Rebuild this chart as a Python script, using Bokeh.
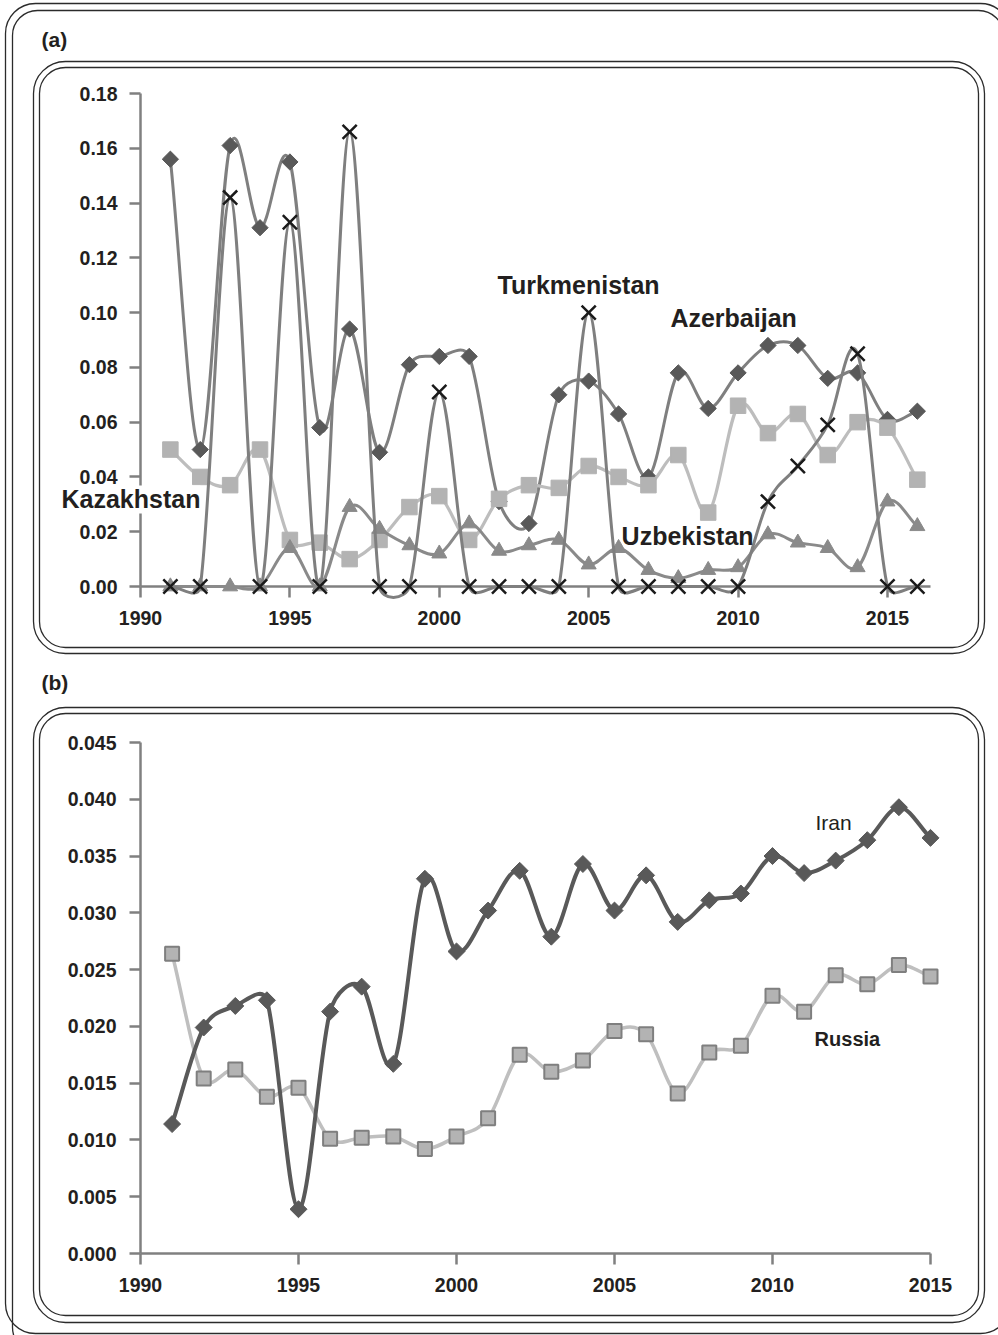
import numpy as np
from bokeh.plotting import figure
from bokeh.models import FixedTicker, NumeralTickFormatter, Range1d
from bokeh.core.properties import value
from bokeh.layouts import column
from bokeh.embed import file_html
from bokeh.resources import INLINE

# ---------------- data: panel (a) ----------------
years_a = list(range(1991, 2017))
azerbaijan = [0.156, 0.050, 0.161, 0.131, 0.155, 0.058, 0.094, 0.049, 0.081, 0.084,
              0.084, 0.031, 0.023, 0.070, 0.075, 0.063, 0.040, 0.078, 0.065, 0.078,
              0.088, 0.088, 0.076, 0.078, 0.061, 0.064]
kazakhstan = [0.050, 0.040, 0.037, 0.050, 0.017, 0.016, 0.010, 0.017, 0.029, 0.033,
              0.017, 0.032, 0.037, 0.036, 0.044, 0.040, 0.037, 0.048, 0.027, 0.066,
              0.056, 0.063, 0.048, 0.060, 0.058, 0.039]
uzbekistan = [0.000, 0.000, 0.000, 0.000, 0.014, 0.000, 0.029, 0.021, 0.015, 0.012,
              0.023, 0.013, 0.015, 0.017, 0.008, 0.014, 0.006, 0.003, 0.006, 0.007,
              0.019, 0.016, 0.014, 0.007, 0.031, 0.022]
turkmenistan = [0.000, 0.000, 0.142, 0.000, 0.133, 0.000, 0.166, 0.000, 0.000, 0.071,
                0.000, 0.000, 0.000, 0.000, 0.100, 0.000, 0.000, 0.000, 0.000, 0.000,
                0.031, 0.044, 0.059, 0.085, 0.000, 0.000]
xticks_a = [1990, 1995, 2000, 2005, 2010, 2015]
yticks_a = [0.00, 0.02, 0.04, 0.06, 0.08, 0.10, 0.12, 0.14, 0.16, 0.18]
labels_a = ["Turkmenistan", "Azerbaijan", "Kazakhstan", "Uzbekistan"]

# ---------------- data: panel (b) ----------------
years_b = list(range(1991, 2016))
iran = [0.0114, 0.0199, 0.0218, 0.0223, 0.0039, 0.0213, 0.0235, 0.0167, 0.0330, 0.0266,
        0.0302, 0.0337, 0.0279, 0.0343, 0.0302, 0.0333, 0.0292, 0.0311, 0.0317, 0.0350,
        0.0335, 0.0346, 0.0364, 0.0393, 0.0366]
russia = [0.0264, 0.0154, 0.0162, 0.0138, 0.0146, 0.0101, 0.0102, 0.0103, 0.0092, 0.0103,
          0.0119, 0.0175, 0.0160, 0.0170, 0.0196, 0.0193, 0.0141, 0.0177, 0.0183, 0.0227,
          0.0213, 0.0245, 0.0237, 0.0254, 0.0244]
xticks_b = [1990, 1995, 2000, 2005, 2010, 2015]
yticks_b = [0.000, 0.005, 0.010, 0.015, 0.020, 0.025, 0.030, 0.035, 0.040, 0.045]

FONT = "Liberation Sans"
TXT = "#231f20"
AXC = "#808080"
FRAME = "#2b2b2b"


def smooth_segments(xs, ys, sx, sy):
    """Spreadsheet-style smoothed line: Bezier control points computed in pixel space
    (arms 1/6 of the neighbour chord, capped at half the segment length)."""
    P = np.column_stack([np.asarray(xs, float) * sx, np.asarray(ys, float) * sy])
    n = len(P)
    out = {k: [] for k in ("x0", "y0", "x1", "y1", "cx0", "cy0", "cx1", "cy1")}
    for i in range(n - 1):
        p1, p2 = P[i], P[i + 1]
        p0 = P[i - 1] if i > 0 else P[i]
        p3 = P[i + 2] if i + 2 < n else P[i + 1]
        d12 = float(np.hypot(*(p2 - p1)))
        a1 = (p2 - p0) * (1 / 6 if i > 0 else 1 / 3)
        a2 = (p3 - p1) * (1 / 6 if i + 2 < n else 1 / 3)
        arms = []
        for a in (a1, a2):
            L = float(np.hypot(*a))
            if L > d12 / 2 and L > 0:
                a = a * (d12 / 2) / L
            arms.append(a)
        b1 = p1 + arms[0]
        b2 = p2 - arms[1]
        out["x0"].append(p1[0] / sx); out["y0"].append(p1[1] / sy)
        out["x1"].append(p2[0] / sx); out["y1"].append(p2[1] / sy)
        out["cx0"].append(b1[0] / sx); out["cy0"].append(b1[1] / sy)
        out["cx1"].append(b2[0] / sx); out["cy1"].append(b2[1] / sy)
    return out


def style_axes(p, xt, yt, yfmt, xstand, ystand):
    for ax in (p.xaxis[0], p.yaxis[0]):
        ax.axis_line_color = AXC
        ax.axis_line_width = 2.5
        ax.major_tick_line_color = AXC
        ax.major_tick_line_width = 2.5
        ax.major_tick_out = 11
        ax.major_tick_in = 0
        ax.minor_tick_line_color = None
        ax.major_label_text_font = FONT
        ax.major_label_text_font_style = "bold"
        ax.major_label_text_font_size = "19.5px"
        ax.major_label_text_color = TXT
    p.xaxis[0].major_label_standoff = xstand
    p.yaxis[0].major_label_standoff = ystand
    p.xaxis[0].ticker = FixedTicker(ticks=xt)
    p.xaxis[0].formatter = NumeralTickFormatter(format="0")
    p.yaxis[0].ticker = FixedTicker(ticks=yt)
    p.yaxis[0].formatter = NumeralTickFormatter(format=yfmt)
    p.grid.visible = False
    p.outline_line_color = None


class Mapper:
    """canvas pixel position -> data coordinates of a figure (for decorations)."""
    def __init__(self, fl, fb, x0, y0, sx, sy):
        self.fl, self.fb, self.x0, self.y0, self.sx, self.sy = fl, fb, x0, y0, sx, sy

    def x(self, px):
        return self.x0 + (px - self.fl) / self.sx

    def y(self, py):
        return self.y0 + (self.fb - py) / self.sy


def rounded(p, m, l, t, r, b, radius, width=1.3):
    p.quad(left=[m.x(l)], right=[m.x(r)], top=[m.y(t)], bottom=[m.y(b)],
           fill_color=None, line_color=FRAME, line_width=width,
           border_radius=radius, level="overlay")


W = 998
FL, FR = 140, 68          # shared left/right borders (column aligns the frames)

# ================= panel (a) =================
HA = 662
FTA, FBA = 93, 76
XA0, XA1, YA0, YA1 = 1990, 2016.44, 0.0, 0.18
pa = figure(width=W, height=HA, x_range=Range1d(XA0, XA1), y_range=Range1d(YA0, YA1),
            output_backend="svg", toolbar_location=None,
            min_border_left=FL, min_border_right=FR, min_border_top=FTA, min_border_bottom=FBA)
style_axes(pa, xticks_a, yticks_a, "0.00", 13, 12)
sxa = (W - FL - FR) / (XA1 - XA0)
sya = (HA - FTA - FBA) / (YA1 - YA0)
ma = Mapper(FL, HA - FBA, XA0, YA0, sxa, sya)

# frames
rounded(pa, ma, 5, 3, 1010, 1300, 30)
rounded(pa, ma, 12, 10, 1003, 1300, 25)
rounded(pa, ma, 33, 61, 984, 653, 32)
rounded(pa, ma, 39, 67, 978, 647, 26)

series_a = [
    (azerbaijan, "#7f7f7f", 3.0, dict(marker="square", angle=np.pi / 4, size=11.5, fill_color="#595959", line_color="#595959")),
    (kazakhstan, "#bdbdbd", 3.2, dict(marker="square", size=15.5, fill_color="#b3b3b3", line_color="#b3b3b3")),
    (uzbekistan, "#8a8a8a", 3.0, dict(marker="triangle", size=15, fill_color="#8a8a8a", line_color="#8a8a8a")),
    (turkmenistan, "#7f7f7f", 3.0, dict(marker="x", size=20, line_color="#1a1a1a", line_width=2.5)),
]
for vals, lc, lw, mk in series_a:
    seg = smooth_segments(years_a, vals, sxa, sya)
    pa.bezier(x0=seg["x0"], y0=seg["y0"], x1=seg["x1"], y1=seg["y1"],
              cx0=seg["cx0"], cy0=seg["cy0"], cx1=seg["cx1"], cy1=seg["cy1"],
              line_color=lc, line_width=lw, line_cap="round", level="overlay")
    pa.scatter(x=years_a, y=vals, level="overlay", **mk)

pa.text(x=[ma.x(41)], y=[ma.y(39)], text=["(a)"], text_font=value(FONT), text_font_style="bold",
        text_font_size="21px", text_color=TXT, text_align="left", text_baseline="middle",
        level="overlay")
# series names (Kazakhstan sits on a white box that hides the axis line)
pa.text(x=[1989.68], y=[0.0318], text=[labels_a[2]], text_font=value(FONT), text_font_style="bold",
        text_font_size="25px", text_color=TXT, text_align="center", text_baseline="middle",
        background_fill_color="white", padding=0, level="overlay")
pa.text(x=[2004.66, 2009.85, 2008.31], y=[0.1099, 0.0982, 0.0186],
        text=[labels_a[0], labels_a[1], labels_a[3]], text_font=value(FONT), text_font_style="bold",
        text_font_size="25px", text_color=TXT, text_align="center", text_baseline="middle",
        level="overlay")

# ================= panel (b) =================
HB = 673
FTB, FBB = 80, 82
XB0, XB1, YB0, YB1 = 1990, 2015, 0.0, 0.045
pb = figure(width=W, height=HB, x_range=Range1d(XB0, XB1), y_range=Range1d(YB0, YB1),
            output_backend="svg", toolbar_location=None,
            min_border_left=FL, min_border_right=FR, min_border_top=FTB, min_border_bottom=FBB)
style_axes(pb, xticks_b, yticks_b, "0.000", 13, 13)
sxb = (W - FL - FR) / (XB1 - XB0)
syb = (HB - FTB - FBB) / (YB1 - YB0)
mb = Mapper(FL, HB - FBB, XB0, YB0, sxb, syb)

rounded(pb, mb, 5, -600, 1010, 671, 30)
rounded(pb, mb, 12, -600, 1003, 690, 25)
rounded(pb, mb, 33, 45, 984, 660, 32)
rounded(pb, mb, 39, 51, 978, 653, 26)

seg = smooth_segments(years_b, russia, sxb, syb)
pb.bezier(x0=seg["x0"], y0=seg["y0"], x1=seg["x1"], y1=seg["y1"],
          cx0=seg["cx0"], cy0=seg["cy0"], cx1=seg["cx1"], cy1=seg["cy1"],
          line_color="#bfbfbf", line_width=3.5, line_cap="round", level="overlay")
pb.scatter(x=years_b, y=russia, marker="square", size=14, fill_color="#b3b3b3",
           line_color="#7f7f7f", line_width=2, level="overlay")
seg = smooth_segments(years_b, iran, sxb, syb)
pb.bezier(x0=seg["x0"], y0=seg["y0"], x1=seg["x1"], y1=seg["y1"],
          cx0=seg["cx0"], cy0=seg["cy0"], cx1=seg["cx1"], cy1=seg["cy1"],
          line_color="#595959", line_width=4, line_cap="round", level="overlay")
pb.scatter(x=years_b, y=iran, marker="square", angle=np.pi / 4, size=12,
           fill_color="#595959", line_color="#595959", level="overlay")

pb.text(x=[mb.x(41)], y=[mb.y(20)], text=["(b)"], text_font=value(FONT), text_font_style="bold",
        text_font_size="21px", text_color=TXT, text_align="left", text_baseline="middle",
        level="overlay")
pb.text(x=[2011.93], y=[0.03795], text=["Iran"], text_font=value(FONT), text_font_size="21px",
        text_color=TXT, text_align="center", text_baseline="middle", level="overlay")
pb.text(x=[2012.37], y=[0.01885], text=["Russia"], text_font=value(FONT), text_font_style="bold",
        text_font_size="20px", text_color=TXT, text_align="center", text_baseline="middle",
        level="overlay")

layout = column(pa, pb, spacing=0)
open("out.html", "w").write(file_html(layout, INLINE))
